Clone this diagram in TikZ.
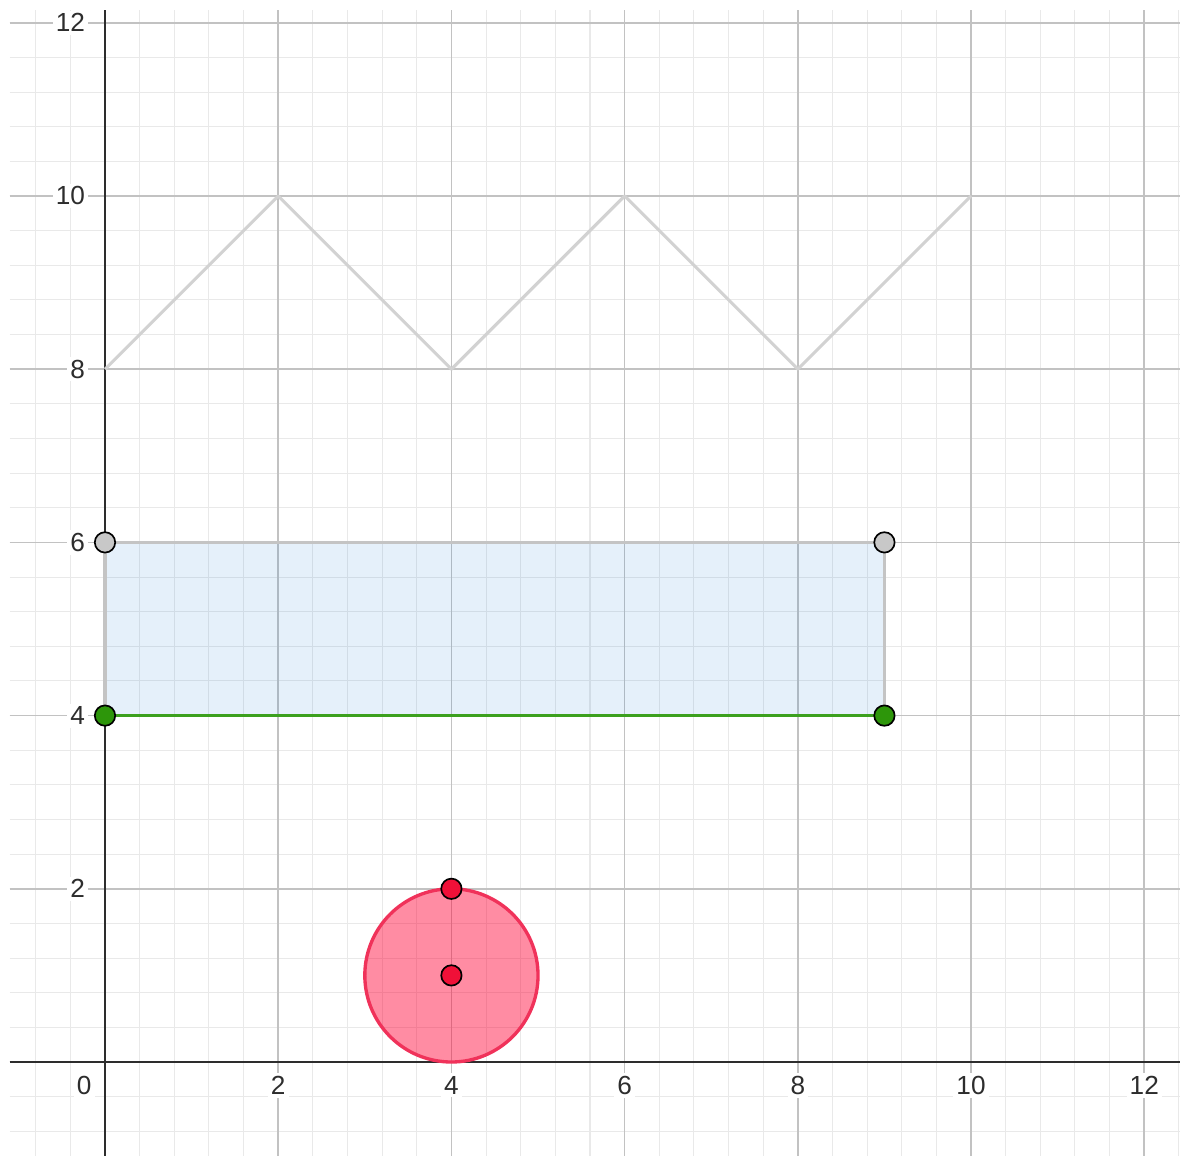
\documentclass[tikz,border=0pt]{standalone}
\usepackage{xcolor}
\usepackage{fontspec}
\setmainfont{Liberation Sans}
\usepackage{tikz}
\usetikzlibrary{positioning, calc}
\definecolor{minorgray}{RGB}{233,233,233}
\definecolor{majorgray}{RGB}{194,194,194}
\definecolor{axisgray}{RGB}{45,45,45}
\definecolor{edgegray}{RGB}{196,196,196}
\definecolor{zigzaggray}{RGB}{210,210,210}
\definecolor{rectblue}{RGB}{0,110,210}
\definecolor{ptgray}{RGB}{200,200,200}
\definecolor{ptgreen}{RGB}{45,150,10}
\definecolor{linegreen}{RGB}{60,160,30}
\definecolor{ptred}{RGB}{240,16,56}
\definecolor{circred}{RGB}{240,50,90}
\definecolor{circfill}{RGB}{255,0,51}
\tikzset{
    minorgrid/.style={draw=minorgray, line width=0.35pt},
    majorgrid/.style={draw=majorgray, line width=0.5pt},
    axisline/.style={draw=axisgray, line width=0.65pt},
    ticklabel/.style={fill=white, inner sep=1pt, text=axisgray,
        font=\fontsize{8.6}{10}\selectfont},
    rectfill/.style={fill=rectblue, fill opacity=0.1},
    rectedge/.style={draw=edgegray, line width=1pt},
    greenline/.style={draw=linegreen, line width=1.1pt},
    zigzag/.style={draw=zigzaggray, line width=1pt, line join=round},
    redcircle/.style={draw=circred, line width=1.1pt, fill=circfill, fill opacity=0.45},
    % Point Styles
    point/.style={circle, draw=black, line width=0.55pt, minimum size=6.7pt, inner sep=0pt},
    graypoint/.style={point, fill=ptgray},
    greenpoint/.style={point, fill=ptgreen},
    redpoint/.style={point, fill=ptred}
}

\begin{document}
\begin{tikzpicture}
    \useasboundingbox (-1.2125,-1.085) rectangle (12.413,12.263);
    % grid
    \foreach \i in {-2,...,31}
        \draw [minorgrid] (\i*0.4,-1.085) -- (\i*0.4,12.15);
    \foreach \i in {-2,...,30}
        \draw [minorgrid] (-1.1,\i*0.4) -- (12.413,\i*0.4);
    \draw [majorgrid, step=2] (-1.1,-1.085) grid (12.413,12.15);
    % tick labels
    \foreach \y in {2,4,...,12}
        \node (ylab\y) [ticklabel, anchor=east] at (-0.19,\y) {\y};
    \foreach \x in {2,4,...,12}
        \node (xlab\x) [ticklabel] at (\x,-0.27) {\x};
    \node (xlab0) [ticklabel] at (-0.24,-0.27) {0};
    % axes
    \draw [axisline] (-1.1,0) -- (12.413,0);
    \draw [axisline] (0,-1.085) -- (0,12.15);

    % rectangle
    \coordinate (R1) at (0,4);
    \coordinate (R2) at (9,4);
    \coordinate (R3) at (9,6);
    \coordinate (R4) at (0,6);
    \fill [rectfill] (R1) -- (R2) -- (R3) -- (R4) -- cycle;
    \draw [rectedge] (R1) -- (R4) -- (R3) -- (R2);
    \draw [greenline] (R1) -- (R2);

    % zigzag
    \draw [zigzag] (0,8) -- (2,10) -- (4,8) -- (6,10) -- (8,8) -- (10,10);

    % circle
    \coordinate (C) at (4,1);
    \draw [redcircle] (C) circle (1);

    % points
    \node (P4) [graypoint] at (R4) {};
    \node (P3) [graypoint] at (R3) {};
    \node (P1) [greenpoint] at (R1) {};
    \node (P2) [greenpoint] at (R2) {};
    \node (Ctop) [redpoint] at (4,2) {};
    \node (Cmid) [redpoint] at (C) {};
\end{tikzpicture}
\end{document}
